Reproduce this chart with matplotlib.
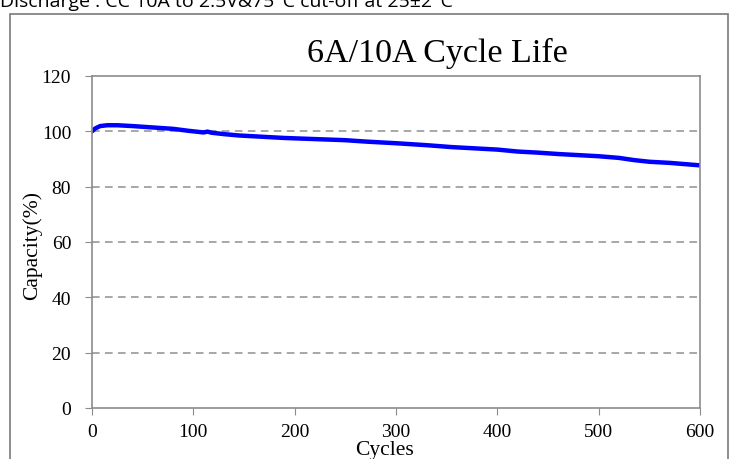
import matplotlib.pyplot as plt
from matplotlib.patches import Rectangle

# values
cycles = [0, 3, 8, 15, 25, 40, 60, 80, 95, 110, 114, 118, 130, 145, 160, 190, 220,
          250, 270, 300, 330, 355, 380, 400, 420, 440, 460, 480, 500, 520, 535,
          550, 570, 590, 600]
capacity = [100.0, 101.0, 101.9, 102.2, 102.2, 101.9, 101.4, 100.9, 100.2, 99.6,
            99.9, 99.5, 99.0, 98.5, 98.2, 97.6, 97.2, 96.8, 96.3, 95.7, 95.0,
            94.3, 93.8, 93.4, 92.7, 92.3, 91.8, 91.4, 91.0, 90.4, 89.6, 89.0,
            88.6, 88.0, 87.7]
x_ticks = [0, 100, 200, 300, 400, 500, 600]
y_ticks = [0, 20, 40, 60, 80, 100, 120]

W, H = 733, 460
fig = plt.figure(figsize=(W / 100, H / 100), dpi=100)
ax = fig.add_axes([92 / W, 1 - 409 / H, (700 - 92) / W, (409 - 77) / H])

serif = 'Liberation Serif'
grey = '#8c8c8c'

ax.plot(cycles, capacity, color='#0000ff', linewidth=3.2, solid_capstyle='round')

ax.set_xlim(0, 600)
ax.set_ylim(0, 120)
ax.set_xticks(x_ticks)
ax.set_yticks(y_ticks)
ax.tick_params(direction='out', length=5, color=grey, labelsize=14)
ax.tick_params(axis='x', pad=6)
ax.tick_params(axis='y', pad=10)
for lab in ax.get_xticklabels() + ax.get_yticklabels():
    lab.set_family(serif)

for s in ax.spines.values():
    s.set_color(grey)
    s.set_linewidth(1.2)

# dashed grid lines
for y in y_ticks[1:-1]:
    ax.axhline(y, color='#909090', linestyle=(0, (5, 3.5)), linewidth=1.1, zorder=0)

fig.text(384 / W, 1 - 455 / H, 'Cycles', family=serif, fontsize=15.5,
         ha='center', va='baseline')
fig.text(32 / W, 1 - 246 / H, 'Capacity(%)', family=serif, fontsize=15.5,
         rotation=90, ha='center', va='center')

fig.text(437 / W, 1 - 62 / H, '6A/10A Cycle Life', family=serif, fontsize=24.5,
         ha='center', va='baseline')

# outer frame and cut-off caption on top
fig.patches.append(Rectangle((10 / W, -0.05), (728 - 10) / W, 1 - 15 / H + 0.05,
                             transform=fig.transFigure, fill=False,
                             edgecolor='#7a7a7a', linewidth=1.2))
fig.text(0, 1 - 7 / H, 'Discharge : CC 10A to 2.5V&75°C cut-off at 25±2°C',
         family='Open Sans', fontsize=14, ha='left', va='baseline')

fig.savefig('out.png', dpi=100)
